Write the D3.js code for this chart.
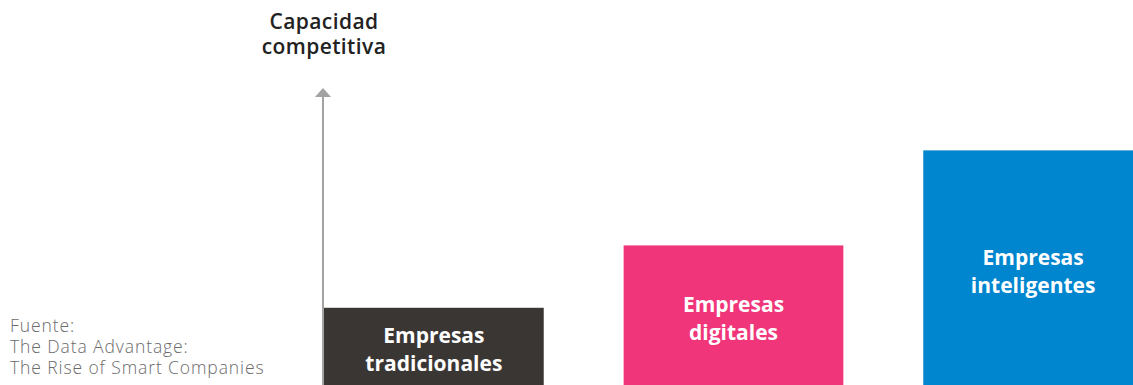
<!DOCTYPE html>
<html>
<head>
<meta charset="utf-8">
<script src="https://cdn.jsdelivr.net/npm/d3@7"></script>
<style>
  html, body { margin: 0; padding: 0; background: #fff; }
  svg { display: block; }
</style>
</head>
<body>
<div id="chart"></div>
<script>
// datos de la figura
const categories = ["tradicionales", "digitales", "inteligentes"];
const labelLines = [["Empresas", "tradicionales"], ["Empresas", "digitales"], ["Empresas", "inteligentes"]];
const values = [2.6, 4.7, 7.9];
const barColors = ["#3a3634", "#f0357a", "#0085cf"];
const axisTitle = ["Capacidad", "competitiva"];
const sourceLines = ["Fuente:", "The Data Advantage:", "The Rise of Smart Companies"];

const width = 1133, height = 385;

const svg = d3.select("#chart").append("svg")
    .attr("width", width)
    .attr("height", height);

// escalas
const x = d3.scaleBand()
    .domain(categories)
    .range([324, 1143])
    .paddingInner(80 / 300)
    .paddingOuter(0);

const y = d3.scaleLinear()
    .domain([0, 10])
    .range([height, 88]);

// eje vertical con flecha
const axisX = 323;
svg.append("line")
    .attr("x1", axisX).attr("x2", axisX)
    .attr("y1", y(0)).attr("y2", y(10) + 8)
    .attr("stroke", "#a3a3a3")
    .attr("stroke-width", 2);

svg.append("path")
    .attr("d", `M${axisX},${y(10)} L${axisX + 8},${y(10) + 9} L${axisX - 8},${y(10) + 9} Z`)
    .attr("fill", "#a3a3a3");

svg.append("g")
    .selectAll("text")
    .data(axisTitle)
    .join("text")
    .attr("x", axisX + 1)
    .attr("y", (d, i) => 29 + i * 25)
    .attr("text-anchor", "middle")
    .style("font-family", "'Open Sans', sans-serif")
    .style("font-weight", 600)
    .style("font-size", "21px")
    .style("letter-spacing", "0.4px")
    .attr("fill", "#222")
    .text(d => d);

// barras
const bars = svg.append("g")
    .selectAll("g")
    .data(categories)
    .join("g");

bars.append("rect")
    .attr("x", d => x(d))
    .attr("y", (d, i) => y(values[i]))
    .attr("width", x.bandwidth())
    .attr("height", (d, i) => y(0) - y(values[i]))
    .attr("fill", (d, i) => barColors[i]);

bars.append("text")
    .attr("text-anchor", "middle")
    .style("font-family", "'Open Sans', sans-serif")
    .style("font-weight", 700)
    .style("font-size", "21px")
    .attr("fill", "#fff")
    .each(function (d, i) {
        const cy = (y(values[i]) + y(0)) / 2 + 4;
        d3.select(this).selectAll("tspan")
            .data(labelLines[i])
            .join("tspan")
            .attr("x", x(d) + x.bandwidth() / 2)
            .attr("y", (t, j) => cy + (j - 0.5) * 28 + 7)
            .text(t => t);
    });

// fuente
svg.append("g")
    .selectAll("text")
    .data(sourceLines)
    .join("text")
    .attr("x", 10)
    .attr("y", (d, i) => 332 + i * 21)
    .style("font-family", "'Open Sans', sans-serif")
    .style("font-weight", 300)
    .style("font-size", "17.5px")
    .style("letter-spacing", "0.9px")
    .attr("fill", "#6b6b6b")
    .text(d => d);
</script>
</body>
</html>
